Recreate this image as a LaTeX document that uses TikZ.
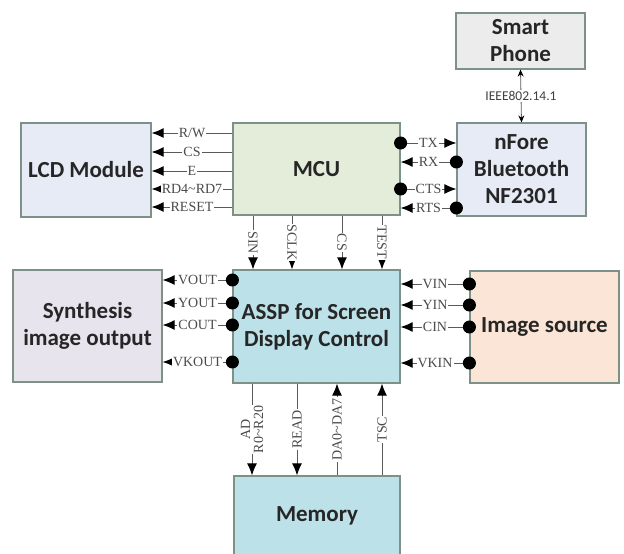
\documentclass[tikz,border=0pt]{standalone}
\usepackage{fontspec}
\setmainfont{Liberation Serif}
\newfontfamily\blockfont{Carlito}
\usetikzlibrary{arrows.meta}

\definecolor{boxline}{RGB}{125,145,135}
\definecolor{sigline}{RGB}{90,90,90}
\definecolor{sigtext}{RGB}{75,75,75}
\definecolor{lcdfill}{RGB}{230,235,245}
\definecolor{mcufill}{RGB}{228,236,218}
\definecolor{phonefill}{RGB}{236,236,236}
\definecolor{synthfill}{RGB}{232,228,238}
\definecolor{asspfill}{RGB}{188,225,233}
\definecolor{srcfill}{RGB}{251,229,214}

\tikzset{
  block/.style={draw=boxline, line width=1.2pt, align=center, inner sep=0pt,
    text=black!85, font=\blockfont\bfseries\fontsize{23}{27}\selectfont},
  sig/.style={draw=sigline, line width=1pt},
  lbl/.style={fill=white, inner sep=1pt, text=sigtext, font=\fontsize{14}{13}\selectfont},
  arr/.style={-{Latex[length=12pt,width=10pt,color=black]}},
  dotarr/.style={{Circle[length=13pt,color=black]}-{Latex[length=12pt,width=10pt,color=black]}, shorten <=-6.5pt},
  arrdot/.style={{Latex[length=12pt,width=10pt,color=black]}-{Circle[length=13pt,color=black]}, shorten >=-6.5pt},
}

\begin{document}
\begin{tikzpicture}[x=1pt, y=-1pt]
    \useasboundingbox (0,0) rectangle (624,554);

    % Blocks
    \node[block, fill=phonefill, minimum width=129pt, minimum height=56pt] (PHONE) at (520.5,41) {Smart\\Phone};
    \node[block, fill=lcdfill, minimum width=130pt, minimum height=94pt] (LCD) at (86,170) {LCD Module};
    \node[block, fill=mcufill, minimum width=167pt, minimum height=92pt] (MCU) at (316.5,169) {MCU};
    \node[block, fill=lcdfill, minimum width=129pt, minimum height=93pt] (BT) at (521.5,169.5) {nFore\\Bluetooth\\NF2301};
    \node[block, fill=synthfill, minimum width=149pt, minimum height=112pt] (SYNTH) at (87.5,326) {Synthesis\\image output};
    \node[block, fill=asspfill, minimum width=167pt, minimum height=113pt] (ASSP) at (316.5,326.5) {ASSP for Screen\\Display Control};
    \node[block, fill=srcfill, minimum width=149pt, minimum height=112pt] (SRC) at (544.5,327) {Image source};
    \node[block, fill=asspfill, minimum width=166pt, minimum height=90pt] (MEM) at (317,521) {};
    \node[block, draw=none] (MEMTXT) at (317,516) {Memory};

    % Smart phone link
    \draw[sig, line width=0.8pt, {Stealth[length=7pt,width=6pt,color=black]}-{Stealth[length=7pt,width=6pt,color=black]}] (PHONE.south) -- node[fill=white, inner sep=1pt, text=black!75, font=\blockfont\fontsize{13.5}{13}\selectfont] {IEEE802.14.1} (BT.north);

    % MCU to LCD
    \draw[sig, arr] (MCU.west |- 0,133) -- node[lbl] {R/W} (LCD.east |- 0,133);
    \draw[sig, arr] (MCU.west |- 0,152) -- node[lbl] {CS} (LCD.east |- 0,152);
    \draw[sig, arr] (MCU.west |- 0,171) -- node[lbl] {E} (LCD.east |- 0,171);
    \draw[sig, arr] (MCU.west |- 0,189) -- node[lbl] {RD4\textasciitilde RD7} (LCD.east |- 0,189);
    \draw[sig, arr] (MCU.west |- 0,207) -- node[lbl] {RESET} (LCD.east |- 0,207);

    % MCU and Bluetooth
    \draw[sig, dotarr] (MCU.east |- 0,143) -- node[lbl] {TX} (BT.west |- 0,143);
    \draw[sig, arrdot] (MCU.east |- 0,162) -- node[lbl] {RX} (BT.west |- 0,162);
    \draw[sig, dotarr] (MCU.east |- 0,189) -- node[lbl] {CTS} (BT.west |- 0,189);
    \draw[sig, arrdot] (MCU.east |- 0,208) -- node[lbl] {RTS} (BT.west |- 0,208);

    % MCU to ASSP
    \draw[sig, arr] (253,0 |- MCU.south) -- node[lbl, rotate=-90] {SIN} (253,0 |- ASSP.north);
    \draw[sig, arr] (292,0 |- MCU.south) -- node[lbl, rotate=-90] {SCLK} (292,0 |- ASSP.north);
    \draw[sig, arr] (342,0 |- MCU.south) -- node[lbl, rotate=-90] {CS} (342,0 |- ASSP.north);
    \draw[sig, arr] (382,0 |- MCU.south) -- node[lbl, rotate=-90] {TEST} (382,0 |- ASSP.north);

    % ASSP to synthesis output
    \draw[sig, dotarr] (ASSP.west |- 0,280) -- node[lbl] {VOUT} (SYNTH.east |- 0,280);
    \draw[sig, dotarr] (ASSP.west |- 0,303) -- node[lbl] {YOUT} (SYNTH.east |- 0,303);
    \draw[sig, dotarr] (ASSP.west |- 0,325) -- node[lbl] {COUT} (SYNTH.east |- 0,325);
    \draw[sig, dotarr] (ASSP.west |- 0,362) -- node[lbl] {VKOUT} (SYNTH.east |- 0,362);

    % Image source to ASSP
    \draw[sig, dotarr] (SRC.west |- 0,284) -- node[lbl] {VIN} (ASSP.east |- 0,284);
    \draw[sig, dotarr] (SRC.west |- 0,305) -- node[lbl] {YIN} (ASSP.east |- 0,305);
    \draw[sig, dotarr] (SRC.west |- 0,327) -- node[lbl] {CIN} (ASSP.east |- 0,327);
    \draw[sig, dotarr] (SRC.west |- 0,363) -- node[lbl] {VKIN} (ASSP.east |- 0,363);

    % ASSP and memory
    \draw[sig, arr] (252,0 |- ASSP.south) -- node[lbl, rotate=90, align=center] {AD\\R0\textasciitilde R20} (252,0 |- MEM.north);
    \draw[sig, arr] (297,0 |- ASSP.south) -- node[lbl, rotate=90] {READ} (297,0 |- MEM.north);
    \draw[sig, arr] (337,0 |- MEM.north) -- node[lbl, rotate=90] {DA0\textasciitilde DA7} (337,0 |- ASSP.south);
    \draw[sig, arr] (382,0 |- MEM.north) -- node[lbl, rotate=90] {TSC} (382,0 |- ASSP.south);
\end{tikzpicture}
\end{document}
